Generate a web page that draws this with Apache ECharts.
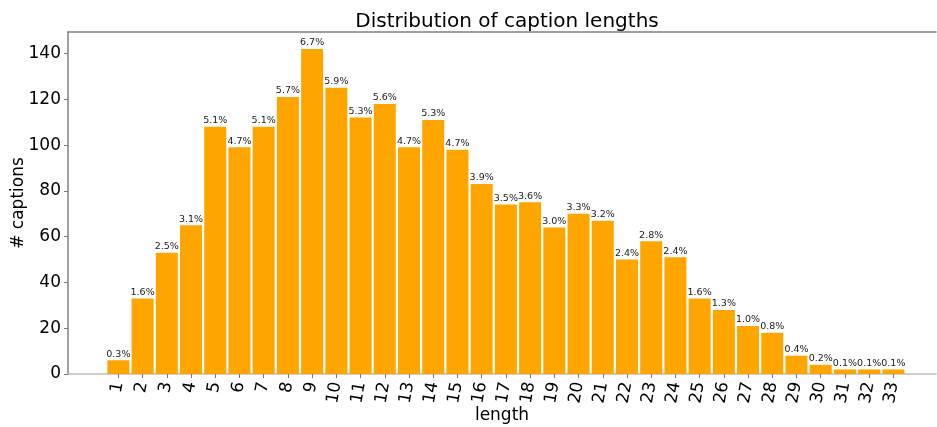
<!DOCTYPE html>
<html>
<head>
<meta charset="utf-8">
<script src="https://cdn.jsdelivr.net/npm/echarts@6/dist/echarts.min.js"></script>
<style>
    html, body { margin: 0; padding: 0; background: #fff; }
    #chart { width: 937px; height: 427px; }
</style>
</head>
<body>
<div id="chart"></div>
<script>
// caption length -> number of captions
const lengths = [1, 2, 3, 4, 5, 6, 7, 8, 9, 10, 11, 12, 13, 14, 15, 16, 17,
    18, 19, 20, 21, 22, 23, 24, 25, 26, 27, 28, 29, 30, 31, 32, 33]
const counts = [6, 33, 53, 65, 108, 99, 108, 121, 142, 125, 112, 118, 99, 111, 98, 83, 74,
    75, 64, 70, 67, 50, 58, 51, 33, 28, 21, 18, 8, 4, 2, 2, 2]
const percents = ['0.3%', '1.6%', '2.5%', '3.1%', '5.1%', '4.7%', '5.1%', '5.7%', '6.7%', '5.9%',
    '5.3%', '5.6%', '4.7%', '5.3%', '4.7%', '3.9%', '3.5%', '3.6%', '3.0%', '3.3%', '3.2%',
    '2.4%', '2.8%', '2.4%', '1.6%', '1.3%', '1.0%', '0.8%', '0.4%', '0.2%', '0.1%', '0.1%', '0.1%']
const yTicks = [0, 20, 40, 60, 80, 100, 120, 140]

const font = 'DejaVu Sans'
const xMin = -1.08
const xMax = 34.76
const yMax = 149.4

const chart = echarts.init(document.getElementById('chart'))
const options = {
    animation: false,
    textStyle: {fontFamily: font},
    title: {
        text: 'Distribution of caption lengths',
        left: 502,
        textAlign: 'center',
        top: 7,
        textStyle: {fontFamily: font, fontSize: 20, fontWeight: 'normal', color: '#000'}
    },
    grid: {left: 68, right: 1, top: 32, bottom: 53, outerBoundsMode: 'none', containLabel: false},
    xAxis: [
        {
            type: 'value',
            min: xMin,
            max: xMax,
            name: 'length',
            nameLocation: 'middle',
            nameGap: 33,
            nameMoveOverlap: false,
            nameTextStyle: {fontFamily: font, fontSize: 17, color: '#000'},
            splitLine: {show: false},
            axisLine: {onZero: false, lineStyle: {color: '#bdbdbd', width: 1.5}},
            axisTick: {
                customValues: lengths,
                length: 4,
                lineStyle: {color: '#777'}
            },
            axisLabel: {
                customValues: lengths,
                rotate: 80,
                margin: 8,
                fontSize: 17,
                color: '#000',
                fontFamily: font
            }
        },
        {
            type: 'value',
            position: 'top',
            min: xMin,
            max: xMax,
            splitLine: {show: false},
            axisLine: {show: true, onZero: false, lineStyle: {color: '#808080', width: 1.5}},
            axisTick: {show: false},
            axisLabel: {show: false}
        }
    ],
    yAxis: {
        type: 'value',
        min: 0,
        max: yMax,
        name: '# captions',
        nameLocation: 'middle',
        nameGap: 41,
        nameMoveOverlap: false,
        nameTextStyle: {fontFamily: font, fontSize: 17, color: '#000'},
        splitLine: {show: false},
        axisLine: {show: true, onZero: false, lineStyle: {color: '#808080', width: 1.5}},
        axisTick: {
            show: true,
            customValues: yTicks,
            length: 4,
            lineStyle: {color: '#777'}
        },
        axisLabel: {
            customValues: yTicks,
            margin: 7,
            fontSize: 17,
            color: '#000',
            fontFamily: font
        }
    },
    series: [
        {
            type: 'bar',
            xAxisIndex: 0,
            barWidth: 22,
            itemStyle: {color: '#ffa500'},
            label: {
                show: true,
                position: 'top',
                distance: 1,
                fontSize: 9.5,
                color: '#1a1a1a',
                fontFamily: font,
                formatter: p => percents[p.dataIndex]
            },
            data: lengths.map((l, i) => [l, counts[i]])
        }
    ]
}
chart.setOption(options)
window.addEventListener('resize', () => chart.resize())
</script>
</body>
</html>
